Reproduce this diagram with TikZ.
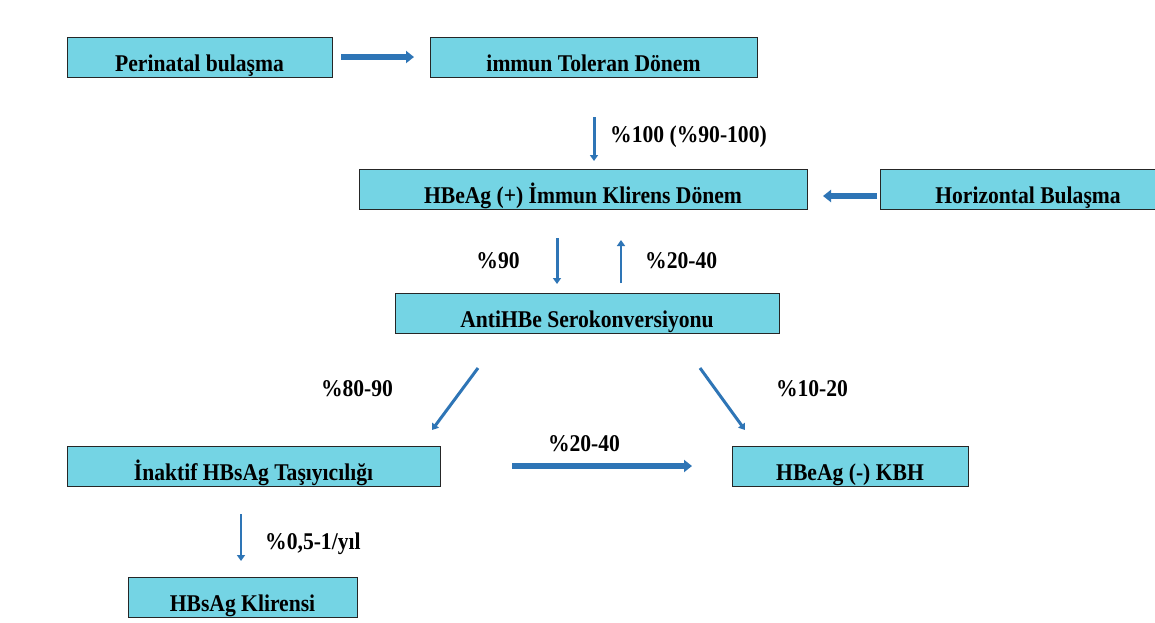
\documentclass[tikz,border=0pt]{standalone}
\usepackage{fontspec}
\setmainfont{Liberation Serif}[FakeStretch=0.9]
\usetikzlibrary{arrows.meta}
\definecolor{boxfill}{RGB}{116,212,228}
\definecolor{arrblue}{RGB}{46,117,182}
\tikzset{
  stage/.style={draw=black!85, line width=1pt, fill=boxfill, inner xsep=0pt, inner ysep=0pt,
    minimum height=40pt, text height=34pt, text depth=6pt, font=\fontsize{24}{26}\selectfont\bfseries},
  lbl/.style={font=\fontsize{24}{26}\selectfont\bfseries, inner sep=0pt},
  thin arrow/.style={draw=arrblue, line width=3pt, -{Triangle[length=6pt,width=8pt]}},
  thick arrow/.style={draw=arrblue, line width=6pt, -{Triangle[length=8pt,width=12pt]}},
}
\begin{document}
\begin{tikzpicture}[x=1pt,y=-1pt]
\useasboundingbox[fill=white] (0,0) rectangle (1155,622);
\node[stage, minimum width=265pt] (peri) at (199.5,57) {Perinatal bulaşma};
\node[stage, minimum width=327pt] (tol) at (593.5,57) {immun Toleran Dönem};
\node[stage, minimum width=448pt] (clear) at (583,189.5) {HBeAg (+) İmmun Klirens Dönem};
\node[stage, minimum width=295pt, anchor=west] (hor) at (880,189.5) {Horizontal Bulaşma};
\node[stage, minimum width=384pt] (anti) at (587,313) {AntiHBe Serokonversiyonu};
\node[stage, minimum width=373pt] (inak) at (253.5,466) {İnaktif HBsAg Taşıyıcılığı};
\node[stage, minimum width=236pt] (kbh) at (850,466) {HBeAg (-) KBH};
\node[stage, minimum width=229pt] (hbs) at (242.5,597) {HBsAg Klirensi};

\coordinate (a1s) at (341,57); \coordinate (a1e) at (414,57);
\draw[thick arrow] (a1s) -- (a1e);
\coordinate (a2s) at (877,196); \coordinate (a2e) at (823,196);
\draw[thick arrow] (a2s) -- (a2e);
\coordinate (a3s) at (594,117); \coordinate (a3e) at (594,161);
\draw[thin arrow] (a3s) -- (a3e);
\node[lbl, anchor=west] (l3) at (610,137) {\%100 (\%90-100)};
\coordinate (a4s) at (557,238); \coordinate (a4e) at (557,284);
\draw[thin arrow] (a4s) -- (a4e);
\node[lbl] (l4) at (498,261) {\%90};
\coordinate (a5s) at (621,283); \coordinate (a5e) at (621,240);
\draw[thin arrow, line width=2.5pt] (a5s) -- (a5e);
\node[lbl, anchor=west] (l5) at (645,261) {\%20-40};
\coordinate (a6s) at (478,368); \coordinate (a6e) at (432,430);
\draw[thin arrow] (a6s) -- (a6e);
\node[lbl] (l6) at (357,389) {\%80-90};
\coordinate (a7s) at (700,368); \coordinate (a7e) at (745,430);
\draw[thin arrow] (a7s) -- (a7e);
\node[lbl] (l7) at (812,389) {\%10-20};
\coordinate (a8s) at (512,466); \coordinate (a8e) at (692,466);
\draw[thick arrow] (a8s) -- (a8e);
\node[lbl] (l8) at (584,444) {\%20-40};
\coordinate (a9s) at (241,514); \coordinate (a9e) at (241,561);
\draw[thin arrow, line width=2.5pt] (a9s) -- (a9e);
\node[lbl, anchor=west] (l9) at (265,544) {\%0,5-1/yıl};
\end{tikzpicture}
\end{document}
